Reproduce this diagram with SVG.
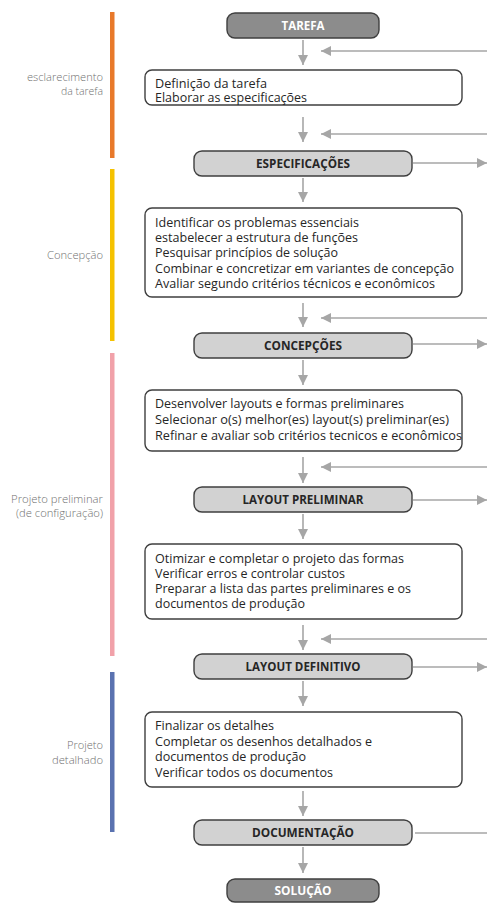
<svg xmlns="http://www.w3.org/2000/svg" width="487" height="903" viewBox="0 0 487 903">
<defs>
<marker id="ah" viewBox="0 0 10 10" refX="10" refY="5" markerWidth="10" markerHeight="10" markerUnits="userSpaceOnUse" orient="auto">
<path d="M0,0 L10,5 L0,10 z" fill="#a6a6a6"/>
</marker>
<style>
.bar{stroke:none}
.lbl{font-family:"Open Sans","Liberation Sans",sans-serif;font-size:11px;font-weight:300;fill:#707070;text-anchor:end}
.box{fill:#fff;stroke:#3f3f3f;stroke-width:1.4}
.ttl{fill:#d2d2d2;stroke:#3f3f3f;stroke-width:1.4}
.end{fill:#8c8c8c;stroke:#3f3f3f;stroke-width:1.4}
.t{font-family:"Open Sans","Liberation Sans",sans-serif;font-size:12px;fill:#262626}
.h{font-family:"Open Sans","Liberation Sans",sans-serif;font-size:12px;font-weight:bold;fill:#262626;text-anchor:middle}
.hw{fill:#ffffff}
.c{stroke:#a6a6a6;stroke-width:1.6;fill:none}
</style>
</defs>

<g id="phases">
<rect class="bar" x="110" y="12" width="4.5" height="146" fill="#e8792a"/>
<rect class="bar" x="110" y="169" width="4.5" height="172" fill="#f5c200"/>
<rect class="bar" x="110" y="353" width="4.5" height="303" fill="#f1a1a9"/>
<rect class="bar" x="110" y="672" width="4.5" height="160" fill="#5a72b0"/>
<text class="lbl" x="103" y="81" textLength="76" lengthAdjust="spacingAndGlyphs">esclarecimento</text>
<text class="lbl" x="103" y="95" textLength="42" lengthAdjust="spacingAndGlyphs">da tarefa</text>
<text class="lbl" x="103" y="259" textLength="56" lengthAdjust="spacingAndGlyphs">Concepção</text>
<text class="lbl" x="103" y="503" textLength="92" lengthAdjust="spacingAndGlyphs">Projeto preliminar</text>
<text class="lbl" x="103" y="517" textLength="87" lengthAdjust="spacingAndGlyphs">(de configuração)</text>
<text class="lbl" x="103" y="749" textLength="36" lengthAdjust="spacingAndGlyphs">Projeto</text>
<text class="lbl" x="103" y="764" textLength="51" lengthAdjust="spacingAndGlyphs">detalhado</text>
</g>

<g id="connectors">
<line class="c" x1="303" y1="40" x2="303" y2="65" marker-end="url(#ah)"/>
<line class="c" x1="303" y1="117" x2="303" y2="142" marker-end="url(#ah)"/>
<line class="c" x1="303" y1="178" x2="303" y2="202" marker-end="url(#ah)"/>
<line class="c" x1="303" y1="303" x2="303" y2="327" marker-end="url(#ah)"/>
<line class="c" x1="303" y1="360" x2="303" y2="385" marker-end="url(#ah)"/>
<line class="c" x1="303" y1="457" x2="303" y2="483" marker-end="url(#ah)"/>
<line class="c" x1="303" y1="514" x2="303" y2="539" marker-end="url(#ah)"/>
<line class="c" x1="303" y1="625" x2="303" y2="650" marker-end="url(#ah)"/>
<line class="c" x1="303" y1="681" x2="303" y2="706" marker-end="url(#ah)"/>
<line class="c" x1="303" y1="791" x2="303" y2="816" marker-end="url(#ah)"/>
<line class="c" x1="303" y1="847" x2="303" y2="873" marker-end="url(#ah)"/>
<line class="c" x1="487" y1="51" x2="321" y2="51" marker-end="url(#ah)"/>
<line class="c" x1="487" y1="134" x2="321" y2="134" marker-end="url(#ah)"/>
<line class="c" x1="487" y1="318" x2="321" y2="318" marker-end="url(#ah)"/>
<line class="c" x1="487" y1="467" x2="321" y2="467" marker-end="url(#ah)"/>
<line class="c" x1="487" y1="639" x2="321" y2="639" marker-end="url(#ah)"/>
<line class="c" x1="413" y1="163" x2="487" y2="163" marker-end="url(#ah)"/>
<line class="c" x1="413" y1="344" x2="487" y2="344" marker-end="url(#ah)"/>
<line class="c" x1="413" y1="500" x2="487" y2="500" marker-end="url(#ah)"/>
<line class="c" x1="413" y1="667" x2="487" y2="667" marker-end="url(#ah)"/>
<line class="c" x1="415" y1="833" x2="487" y2="833"/>
</g>

<g id="tarefa">
<rect class="end" x="227" y="13" width="152" height="25" rx="8"/>
<text class="h hw" x="303" y="30" textLength="43" lengthAdjust="spacingAndGlyphs">TAREFA</text>
</g>

<g id="box1">
<rect class="box" x="145" y="70" width="317" height="35" rx="7"/>
<text class="t" x="155" y="88" textLength="112" lengthAdjust="spacingAndGlyphs">Definição da tarefa</text>
<text class="t" x="155" y="102" textLength="152" lengthAdjust="spacingAndGlyphs">Elaborar as especificações</text>
</g>

<g id="especificacoes">
<rect class="ttl" x="194" y="151" width="218" height="25" rx="8"/>
<text class="h" x="303" y="168" textLength="94" lengthAdjust="spacingAndGlyphs">ESPECIFICAÇÕES</text>
</g>

<g id="box2">
<rect class="box" x="145" y="208" width="317" height="89" rx="7"/>
<text class="t" x="155" y="227" textLength="204" lengthAdjust="spacingAndGlyphs">Identificar os problemas essenciais</text>
<text class="t" x="155" y="242" textLength="203" lengthAdjust="spacingAndGlyphs">estabelecer a estrutura de funções</text>
<text class="t" x="155" y="257" textLength="183" lengthAdjust="spacingAndGlyphs">Pesquisar princípios de solução</text>
<text class="t" x="155" y="272.5" textLength="299" lengthAdjust="spacingAndGlyphs">Combinar e concretizar em variantes de concepção</text>
<text class="t" x="155" y="288" textLength="280" lengthAdjust="spacingAndGlyphs">Avaliar segundo critérios técnicos e econômicos</text>
</g>

<g id="concepcoes">
<rect class="ttl" x="194" y="333" width="218" height="25" rx="8"/>
<text class="h" x="303" y="350" textLength="78" lengthAdjust="spacingAndGlyphs">CONCEPÇÕES</text>
</g>

<g id="box3">
<rect class="box" x="145" y="390" width="317" height="61" rx="7"/>
<text class="t" x="155" y="408" textLength="249" lengthAdjust="spacingAndGlyphs">Desenvolver layouts e formas preliminares</text>
<text class="t" x="155" y="424" textLength="294" lengthAdjust="spacingAndGlyphs">Selecionar o(s) melhor(es) layout(s) preliminar(es)</text>
<text class="t" x="155" y="440" textLength="307" lengthAdjust="spacingAndGlyphs">Refinar e avaliar sob critérios tecnicos e econômicos</text>
</g>

<g id="layout-preliminar">
<rect class="ttl" x="194" y="487" width="218" height="25" rx="8"/>
<text class="h" x="303" y="504" textLength="121" lengthAdjust="spacingAndGlyphs">LAYOUT PRELIMINAR</text>
</g>

<g id="box4">
<rect class="box" x="145" y="544" width="317" height="75" rx="7"/>
<text class="t" x="155" y="563" textLength="249" lengthAdjust="spacingAndGlyphs">Otimizar e completar o projeto das formas</text>
<text class="t" x="155" y="578" textLength="190" lengthAdjust="spacingAndGlyphs">Verificar erros e controlar custos</text>
<text class="t" x="155" y="593" textLength="256" lengthAdjust="spacingAndGlyphs">Preparar a lista das partes preliminares e os</text>
<text class="t" x="155" y="608" textLength="150" lengthAdjust="spacingAndGlyphs">documentos de produção</text>
</g>

<g id="layout-definitivo">
<rect class="ttl" x="194" y="654" width="218" height="25" rx="8"/>
<text class="h" x="303" y="671" textLength="115" lengthAdjust="spacingAndGlyphs">LAYOUT DEFINITIVO</text>
</g>

<g id="box5">
<rect class="box" x="145" y="712" width="317" height="75" rx="7"/>
<text class="t" x="155" y="730" textLength="119" lengthAdjust="spacingAndGlyphs">Finalizar os detalhes</text>
<text class="t" x="155" y="746" textLength="217" lengthAdjust="spacingAndGlyphs">Completar os desenhos detalhados e</text>
<text class="t" x="155" y="761" textLength="151" lengthAdjust="spacingAndGlyphs">documentos de produção</text>
<text class="t" x="155" y="777" textLength="178" lengthAdjust="spacingAndGlyphs">Verificar todos os documentos</text>
</g>

<g id="documentacao">
<rect class="ttl" x="194" y="820" width="218" height="25" rx="8"/>
<text class="h" x="303" y="837" textLength="102" lengthAdjust="spacingAndGlyphs">DOCUMENTAÇÃO</text>
</g>

<g id="solucao">
<rect class="end" x="227" y="879" width="152" height="23" rx="8"/>
<text class="h hw" x="303" y="895" textLength="57" lengthAdjust="spacingAndGlyphs">SOLUÇÃO</text>
</g>
</svg>
